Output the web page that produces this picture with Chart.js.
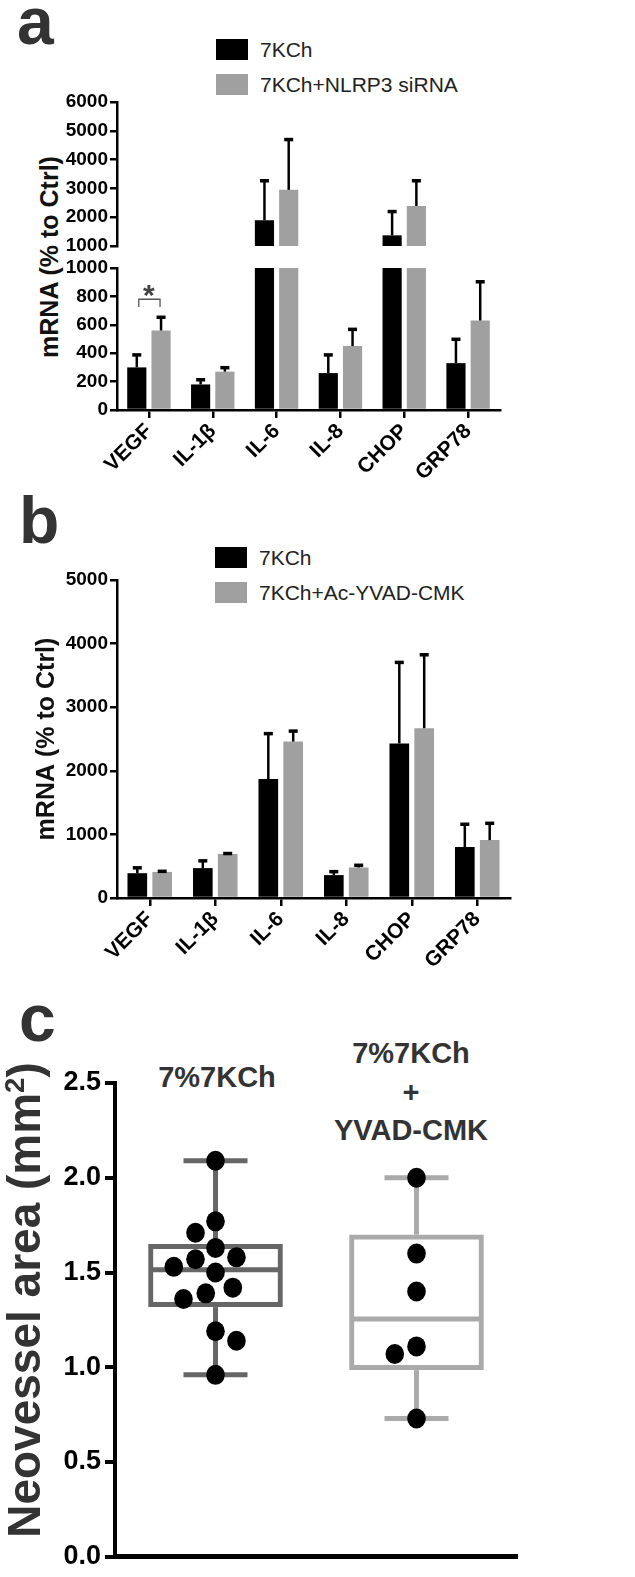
<!DOCTYPE html>
<html>
<head>
<meta charset="utf-8">
<script src="https://cdn.jsdelivr.net/npm/chart.js@4.4.0/dist/chart.umd.min.js"></script>
<style>
  body { margin: 0; background: #fff; font-family: 'Liberation Sans', Arial, sans-serif; }
  #page { position: relative; width: 635px; height: 1577px; overflow: hidden; }
  .box { position: absolute; left: 0; width: 635px; }
  .letter { position: absolute; font-weight: bold; font-size: 66px; line-height: 66px; color: #333; }
  .legend { position: absolute; font-size: 21px; color: #222; }
  .legend .row { display: flex; align-items: center; height: 35px; white-space: nowrap; }
  .legend .sw { display: inline-block; width: 32px; height: 21px; margin-right: 12px; }
  .ytitle { position: absolute; white-space: nowrap; font-weight: bold; transform: translate(-50%, -50%) rotate(-90deg); }
  .glabel { position: absolute; transform: translateX(-50%); text-align: center; font-weight: bold;
            font-size: 29px; line-height: 38.5px; color: #333; white-space: nowrap; }
</style>
</head>
<body>
<div id="page">
  <div class="letter" style="left:17px;top:-12px">a</div>
  <div class="legend" id="legendA" style="left:216px;top:32px"></div>
  <div class="ytitle" style="left:49px;top:257px;font-size:25px;color:#111">mRNA (% to Ctrl)</div>
  <div class="box" style="top:88px;height:172px"><canvas id="chartAHigh"></canvas></div>
  <div class="box" style="top:252px;height:250px"><canvas id="chartALow"></canvas></div>

  <div class="letter" style="left:19px;top:487px">b</div>
  <div class="legend" id="legendB" style="left:215px;top:540px"></div>
  <div class="box" style="top:560px;height:430px"><canvas id="chartB"></canvas></div>

  <div class="letter" style="left:19px;top:985px">c</div>
  <div class="ytitle" style="left:24px;top:1300px;font-size:46px;color:#333">Neovessel area (mm<sup style="font-size:60%">2</sup>)</div>
  <div class="glabel" id="groupC1" style="left:217px;top:1058px"></div>
  <div class="glabel" id="groupC2" style="left:411px;top:1034px"></div>
  <div class="box" style="top:1060px;height:517px"><canvas id="chartC"></canvas></div>
</div>
<script>
// ---- data ----
const genes = ['VEGF', 'IL-1β', 'IL-6', 'IL-8', 'CHOP', 'GRP78'];

// panel a
const seriesA = ['7KCh', '7KCh+NLRP3 siRNA'];
const kchA = [300, 180, 1890, 260, 1370, 330];
const kchErrA = [95, 40, 1410, 135, 860, 175];
const sirnaA = [560, 270, 2950, 450, 2390, 630];
const sirnaErrA = [100, 35, 1780, 125, 910, 280];
const ticksLowA = [0, 200, 400, 600, 800, 1000];
const ticksHighA = [1000, 2000, 3000, 4000, 5000, 6000];

// panel b
const seriesB = ['7KCh', '7KCh+Ac-YVAD-CMK'];
const kchB = [390, 470, 1870, 360, 2430, 800];
const kchErrB = [100, 130, 730, 70, 1290, 375];
const yvadB = [410, 690, 2460, 480, 2670, 910];
const yvadErrB = [25, 25, 180, 50, 1170, 280];
const ticksB = [0, 1000, 2000, 3000, 4000, 5000];

// panel c
const groupsC = [['7%7KCh'], ['7%7KCh', '+', 'YVAD-CMK']];
const areaKch = [2.09, 1.77, 1.71, 1.63, 1.58, 1.57, 1.53, 1.50, 1.42, 1.39, 1.36, 1.19, 1.14, 0.96];
const areaYvad = [2.00, 1.60, 1.40, 1.11, 1.07, 0.73];
const ticksC = [0, 0.5, 1.0, 1.5, 2.0, 2.5];

const BLACK = '#000';
const GRAY = '#a0a0a0';
const boxColors = ['#666666', '#aaaaaa'];
const FONT = "'Liberation Sans', Arial, sans-serif";

// ---- html text ----
function legend(id, labels) {
  const colors = [BLACK, GRAY];
  document.getElementById(id).innerHTML = labels.map((l, i) =>
    `<div class="row"><span class="sw" style="background:${colors[i]}"></span>${l}</div>`).join('');
}
legend('legendA', seriesA);
legend('legendB', seriesB);
document.getElementById('groupC1').innerHTML = groupsC[0].join('<br>');
document.getElementById('groupC2').innerHTML = groupsC[1].join('<br>');

// ---- plugins ----
const errorBars = {
  id: 'errorBars',
  afterDatasetsDraw(chart) {
    const { ctx, chartArea: a } = chart;
    const y = chart.scales.y;
    ctx.save();
    ctx.beginPath();
    ctx.rect(a.left, a.top, a.right - a.left, a.bottom - a.top);
    ctx.clip();
    ctx.strokeStyle = '#000';
    chart.data.datasets.forEach((ds, i) => {
      chart.getDatasetMeta(i).data.forEach((bar, j) => {
        const y0 = y.getPixelForValue(ds.data[j]);
        const y1 = y.getPixelForValue(ds.data[j] + ds.errors[j]);
        ctx.lineWidth = 2.5;
        ctx.beginPath(); ctx.moveTo(bar.x, y0); ctx.lineTo(bar.x, y1); ctx.stroke();
        ctx.lineWidth = 3.5;
        ctx.beginPath(); ctx.moveTo(bar.x - 4.5, y1 + 1); ctx.lineTo(bar.x + 4.5, y1 + 1); ctx.stroke();
      });
    });
    ctx.restore();
  }
};

const sigMark = {
  id: 'sigMark',
  afterDatasetsDraw(chart, args, opts) {
    const { ctx } = chart;
    const y = chart.scales.y;
    const x0 = chart.getDatasetMeta(0).data[opts.index].x;
    const x1 = chart.getDatasetMeta(1).data[opts.index].x;
    const yb = y.getPixelForValue(opts.bracket);
    const yl = y.getPixelForValue(opts.leg);
    ctx.save();
    ctx.strokeStyle = '#555';
    ctx.lineWidth = 1.3;
    ctx.beginPath();
    ctx.moveTo(x0 + 2, yl); ctx.lineTo(x0 + 2, yb); ctx.lineTo(x1 - 1, yb); ctx.lineTo(x1 - 1, yl);
    ctx.stroke();
    ctx.fillStyle = '#444';
    ctx.font = `bold 30px ${FONT}`;
    ctx.textAlign = 'center';
    ctx.textBaseline = 'alphabetic';
    ctx.fillText('*', (x0 + x1) / 2, y.getPixelForValue(opts.star) + 17);
    ctx.restore();
  }
};

function quantile(sorted, p) {
  const pos = (sorted.length + 1) * p;
  const lo = Math.floor(pos);
  if (lo < 1) return sorted[0];
  if (lo >= sorted.length) return sorted[sorted.length - 1];
  return sorted[lo - 1] + (pos - lo) * (sorted[lo] - sorted[lo - 1]);
}
function boxStats(vals) {
  const s = [...vals].sort((a, b) => a - b);
  return { min: s[0], q1: quantile(s, 0.25), med: quantile(s, 0.5), q3: quantile(s, 0.75), max: s[s.length - 1] };
}

// simple beeswarm: place each dot as close to the centre as it can go without overlap
function swarm(ys, d) {
  const placed = [];
  const xs = new Array(ys.length);
  const order = ys.map((v, i) => i).sort((a, b) => ys[a] - ys[b]);
  let side = 1;
  order.forEach(i => {
    const y = ys[i];
    const near = placed.filter(p => Math.abs(p.y - y) < d);
    const cands = [0];
    near.forEach(p => {
      const dx = Math.sqrt(d * d - (p.y - y) ** 2);
      cands.push(p.x - dx, p.x + dx);
    });
    const ok = cands.filter(x => near.every(p => Math.hypot(p.x - x, p.y - y) >= d - 0.01));
    ok.sort((a, b) => Math.abs(a) - Math.abs(b) || (a - b) * side);
    xs[i] = ok[0];
    if (ok[0] !== 0) side = Math.sign(ok[0]);
    placed.push({ x: xs[i], y });
  });
  return xs;
}

const samplesC = [areaKch, areaYvad];
const statsC = samplesC.map(boxStats);

const boxExtras = {
  id: 'boxExtras',
  afterDatasetsDraw(chart) {
    const { ctx } = chart;
    const y = chart.scales.y;
    const meta = chart.getDatasetMeta(0);
    samplesC.forEach((vals, i) => {
      const st = statsC[i];
      const bar = meta.data[i];
      const cx = bar.x;
      const half = bar.width / 2;
      const py = v => y.getPixelForValue(v);
      ctx.save();
      ctx.strokeStyle = boxColors[i];
      ctx.lineWidth = 5;
      const seg = (xa, ya, xb, yb) => { ctx.beginPath(); ctx.moveTo(xa, ya); ctx.lineTo(xb, yb); ctx.stroke(); };
      seg(cx, py(st.q3), cx, py(st.max));
      seg(cx, py(st.q1), cx, py(st.min));
      seg(cx - 32, py(st.max), cx + 32, py(st.max));
      seg(cx - 32, py(st.min), cx + 32, py(st.min));
      seg(cx - half + 2, py(st.med), cx + half - 2, py(st.med));
      const ys = vals.map(py);
      const xs = swarm(ys, 23);
      ctx.fillStyle = '#000';
      ys.forEach((yy, k) => {
        ctx.beginPath();
        ctx.ellipse(cx + xs[k], yy, 9.3, 10, 0, 0, Math.PI * 2);
        ctx.fill();
      });
      ctx.restore();
    });
  }
};

// ---- chart builders ----
function fixedTicks(arr) {
  return s => { s.ticks = arr.map(value => ({ value })); };
}
function yAxis(ticks, width, size) {
  return {
    min: ticks[0], max: ticks[ticks.length - 1],
    afterBuildTicks: fixedTicks(ticks),
    afterFit: s => { s.width = width; },
    grid: { display: true, drawOnChartArea: false, drawTicks: true, tickLength: 7, lineWidth: 2.5, color: '#000' },
    border: { display: true, color: '#000', width: 2.5 },
    ticks: { color: '#000', padding: 2, font: { family: FONT, size: size, weight: 'bold' },
             callback: v => String(v) }
  };
}
function xAxis(show) {
  if (!show) return { display: false, offset: true };
  return {
    offset: true,
    afterFit: s => { s.height = 92; },
    grid: { display: true, offset: false, drawOnChartArea: false, drawTicks: true, tickLength: 8, lineWidth: 2.5, color: '#000' },
    border: { display: true, color: '#000', width: 2.5 },
    ticks: { color: '#000', autoSkip: false, minRotation: 45, maxRotation: 45, padding: 1,
             font: { family: FONT, size: 21, weight: 'bold' } }
  };
}
function barSets(labels, v1, e1, v2, e2) {
  const common = { categoryPercentage: 0.76, barPercentage: 0.79, clip: 0, borderWidth: 0 };
  return [
    Object.assign({ label: labels[0], data: v1, errors: e1, backgroundColor: BLACK }, common),
    Object.assign({ label: labels[1], data: v2, errors: e2, backgroundColor: GRAY }, common)
  ];
}
const baseOpts = {
  responsive: true, maintainAspectRatio: false, animation: false,
  plugins: { legend: { display: false }, tooltip: { enabled: false } }
};

// panel a, upper segment (broken axis 1000-6000)
new Chart(document.getElementById('chartAHigh'), {
  type: 'bar',
  data: { labels: genes, datasets: barSets(seriesA, kchA, kchErrA, sirnaA, sirnaErrA) },
  options: Object.assign({}, baseOpts, {
    layout: { padding: { left: 0, right: 135, top: 14, bottom: 14 } },
    scales: { x: xAxis(false), y: yAxis(ticksHighA, 117, 19) }
  }),
  plugins: [errorBars]
});

// panel a, lower segment (0-1000)
new Chart(document.getElementById('chartALow'), {
  type: 'bar',
  data: { labels: genes, datasets: barSets(seriesA, kchA, kchErrA, sirnaA, sirnaErrA) },
  options: Object.assign({}, baseOpts, {
    layout: { padding: { left: 0, right: 135, top: 16, bottom: 0 } },
    scales: { x: xAxis(true), y: yAxis(ticksLowA, 117, 19) },
    plugins: Object.assign({}, baseOpts.plugins, { sigMark: { index: 0, bracket: 780, leg: 725, star: 860 } })
  }),
  plugins: [errorBars, sigMark]
});

// panel b
const yB = yAxis(ticksB, 117, 19);
yB.title = { display: true, text: 'mRNA (% to Ctrl)', color: '#111', padding: { top: 32, bottom: 0 },
             font: { family: FONT, size: 25, weight: 'bold', lineHeight: 1.2 } };
new Chart(document.getElementById('chartB'), {
  type: 'bar',
  data: { labels: genes, datasets: barSets(seriesB, kchB, kchErrB, yvadB, yvadErrB) },
  options: Object.assign({}, baseOpts, {
    layout: { padding: { left: 0, right: 125, top: 20, bottom: 0 } },
    scales: { x: xAxis(true), y: yB }
  }),
  plugins: [errorBars]
});

// panel c (box plot: box from Chart.js floating bars, whiskers and dots on its scales)
const yC = yAxis(ticksC, 115, 27);
yC.grid.lineWidth = 4;
yC.grid.tickLength = 10;
yC.border.width = 4;
yC.ticks.padding = 4;
yC.ticks.callback = v => Number(v).toFixed(1);
new Chart(document.getElementById('chartC'), {
  type: 'bar',
  data: {
    labels: groupsC.map(g => g.join(' ')),
    datasets: [{
      data: statsC.map(s => [s.q1, s.q3]),
      backgroundColor: 'rgba(255,255,255,0)',
      borderColor: boxColors,
      borderWidth: 5,
      borderSkipped: false,
      categoryPercentage: 1,
      barPercentage: 0.67
    }]
  },
  options: Object.assign({}, baseOpts, {
    layout: { padding: { left: 0, right: 118, top: 23, bottom: 7 } },
    scales: {
      x: {
        offset: true,
        afterFit: s => { s.height = 10; },
        grid: { display: false },
        border: { display: true, color: '#000', width: 5 },
        ticks: { display: false }
      },
      y: yC
    }
  }),
  plugins: [boxExtras]
});
</script>
</body>
</html>
